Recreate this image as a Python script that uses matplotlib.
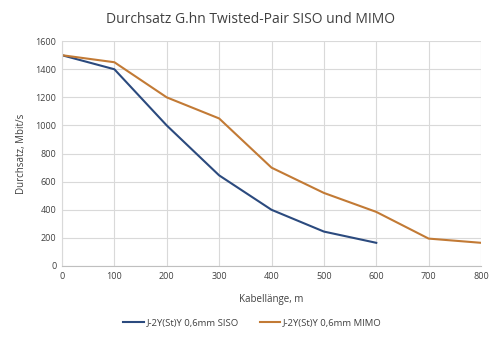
import matplotlib
matplotlib.use("Agg")
import matplotlib.pyplot as plt

plt.rcParams['font.family'] = ['Open Sans', 'DejaVu Sans']

# Kabellänge in m
laenge_siso = [0, 100, 200, 300, 400, 500, 600]
laenge_mimo = [0, 100, 200, 300, 400, 500, 600, 700, 800]

# Durchsatz in Mbit/s
durchsatz_siso = [1500, 1400, 1000, 645, 400, 245, 165]
durchsatz_mimo = [1500, 1450, 1200, 1050, 700, 520, 385, 195, 165]

fig = plt.figure(figsize=(5, 3.43), dpi=100)
ax = fig.add_axes([0.124, 0.2245, 0.838, 0.6555])

ax.plot(laenge_siso, durchsatz_siso, color='#2B4A7E', linewidth=1.5,
        label='J-2Y(St)Y 0,6mm SISO')
ax.plot(laenge_mimo, durchsatz_mimo, color='#C27A35', linewidth=1.5,
        label='J-2Y(St)Y 0,6mm MIMO')

ax.set_xlim(0, 800)
ax.set_ylim(0, 1600)
ax.set_xticks(range(0, 801, 100))
ax.set_yticks(range(0, 1601, 200))
ax.grid(True, color='#D9D9D9', linewidth=0.8)
ax.set_axisbelow(True)
for side in ['top', 'right']:
    ax.spines[side].set_visible(False)
ax.spines['left'].set_color('#D9D9D9')
ax.spines['bottom'].set_color('#BFBFBF')
ax.tick_params(length=0, labelsize=6.5, colors='#404040', pad=4)

ax.set_xlabel('Kabellänge, m', fontsize=7, color='#404040', labelpad=10)
ax.set_ylabel('Durchsatz, Mbit/s', fontsize=7, color='#404040', labelpad=6)
fig.suptitle('Durchsatz G.hn Twisted-Pair SISO und MIMO', fontsize=10,
             color='#404040', y=0.965)

fig.legend(loc='lower center', bbox_to_anchor=(0.505, 0.02), ncol=2,
           frameon=False, fontsize=6.8, handlelength=2.2, handletextpad=0.3,
           columnspacing=2.2, labelcolor='#404040')

fig.savefig('out.png', dpi=100)
